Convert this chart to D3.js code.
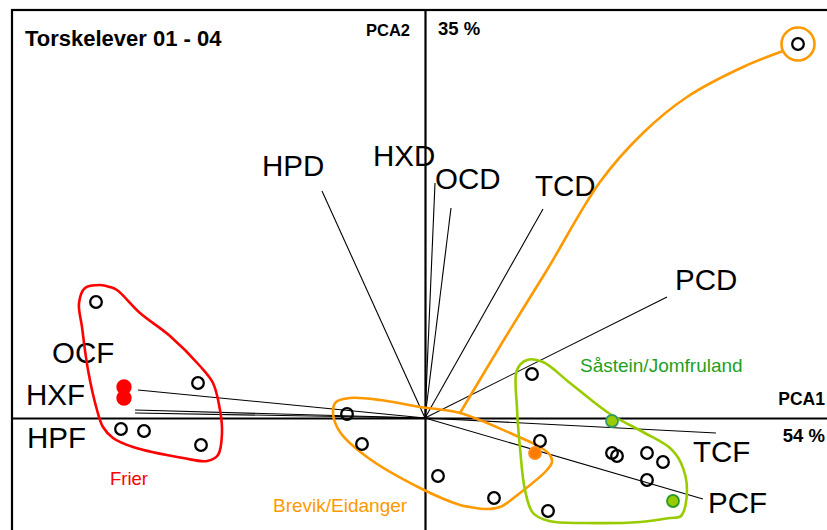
<!DOCTYPE html>
<html>
<head>
<meta charset="utf-8">
<script src="https://cdn.jsdelivr.net/npm/d3@7/dist/d3.min.js"></script>
<style>
  html, body { margin: 0; padding: 0; background: #fff; }
  svg { display: block; }
  text { font-family: "Liberation Sans", Arial, Helvetica, sans-serif; }
</style>
</head>
<body>
<svg id="chart" width="827" height="530"></svg>
<script>
// ---------- DATA (PCA units) ----------
const title = "Torskelever 01 - 04";
const axisY = { name: "PCA2", pct: "35 %" };
const axisX = { name: "PCA1", pct: "54 %" };

// loading vectors
const loadingNames = ["HPD", "HXD", "OCD", "TCD", "PCD", "OCF", "HXF", "HPF", "TCF", "PCF"];
const loadingX = [-1.03, 0.10, 0.26, 1.18, 2.42, -2.87, -2.90, -2.90, 2.91, 2.78];
const loadingY = [ 2.27, 2.35, 2.10, 2.09, 1.21,  0.28,  0.08,  0.05, -0.15, -0.81];
// label anchors (left/baseline) for loading labels
const labelX = [-1.63, -0.52, 0.10, 1.10, 2.50, -3.73, -3.99, -3.98, 2.68, 2.83];
const labelY = [ 2.42,  2.52, 2.29, 2.22, 1.28,  0.55,  0.13, -0.30, -0.44, -0.95];

// sample scores (open circles)
const sampleX = [-3.29, -2.27, -3.04, -2.81, -2.24, -0.78, -0.63, 1.07, 1.15, 0.13, 0.69, 1.23, 1.87, 1.92, 2.22, 2.38, 2.22, 3.73];
const sampleY = [ 1.16,  0.35, -0.11, -0.13, -0.27,  0.04, -0.26, 0.44, -0.23, -0.58, -0.80, -0.93, -0.35, -0.38, -0.35, -0.44, -0.62, 3.74];

// highlighted samples (filled)
const hlX = [-3.01, -3.01, 1.10, 1.87, 2.48];
const hlY = [ 0.31,  0.20, -0.35, -0.03, -0.83];
const hlGroup = ["Frier", "Frier", "Brevik/Eidanger", "Teal", "Såstein/Jomfruland"];

// groups
const groupNames = ["Frier", "Brevik/Eidanger", "Såstein/Jomfruland"];
const groupLabelX = [-3.15, -1.52, 1.55];
const groupLabelY = [-0.67, -0.94, 0.46];

// hull outlines (PCA units)
const hullFrier = [
  [-3.25, 1.33], [-3.15, 1.31], [-3.08, 1.28], [-2.85, 1.05], [-2.55, 0.82], [-2.25, 0.52],
  [-2.12, 0.35], [-2.05, 0.08], [-2.03, -0.15], [-2.07, -0.37], [-2.18, -0.43],
  [-2.42, -0.40], [-2.92, -0.29], [-3.12, -0.20], [-3.22, -0.09], [-3.28, 0.08],
  [-3.37, 0.48], [-3.43, 0.91], [-3.46, 1.15], [-3.40, 1.30]
];
const hullBrevik = [
  [-0.89, 0.16], [-0.75, 0.20], [-0.45, 0.18], [-0.05, 0.11], [0.35, 0.05], [0.85, -0.15],
  [1.15, -0.29], [1.25, -0.37], [1.27, -0.44], [1.22, -0.52], [0.95, -0.75], [0.75, -0.89],
  [0.62, -0.91], [0.45, -0.89], [0.35, -0.87], [-0.05, -0.70], [-0.58, -0.39], [-0.85, -0.14],
  [-0.92, 0.05]
];
const hullSastein = [
  [0.92, 0.48], [1.02, 0.58], [1.18, 0.56], [1.45, 0.35], [1.85, 0.04], [2.18, -0.14],
  [2.45, -0.30], [2.56, -0.45], [2.62, -0.72], [2.56, -0.98], [2.45, -1.00], [2.15, -1.04],
  [1.60, -1.05], [1.24, -1.03], [1.08, -0.95], [1.00, -0.72], [0.95, -0.30], [0.92, 0.10]
];
// connector from Brevik hull to the outlying sample
const tail = [[0.35, 0.05], [0.80, 0.80], [1.22, 1.48], [1.75, 2.36], [2.18, 2.85], [2.62, 3.21], [3.18, 3.51], [3.58, 3.67]];
const outlierRing = { x: 3.73, y: 3.74 };

// ---------- LAYOUT ----------
const svg = d3.select("#chart");
const x = d3.scaleLinear().domain([-4.13, 4.02]).range([12, 827]);
const y = d3.scaleLinear().domain([4.08, -1.12]).range([10, 530]);
const red = "#ff0000", orange = "#ff9900", lime = "#99cc00", green = "#1f9f1f";

// frame (extends beyond right/bottom edges)
svg.append("rect").attr("x", x(-4.13)).attr("y", y(4.08)).attr("width", 900).attr("height", 900)
  .attr("fill", "none").attr("stroke", "#000").attr("stroke-width", 2.2);

// axes through origin
const gx = svg.append("g").attr("transform", `translate(0,${y(0)})`)
  .call(d3.axisBottom(x).tickValues([]).tickSizeOuter(0));
const gy = svg.append("g").attr("transform", `translate(${x(0)},0)`)
  .call(d3.axisLeft(y).tickValues([]).tickSizeOuter(0));
[gx, gy].forEach(g => g.select(".domain").attr("stroke", "#000").attr("stroke-width", 2.2));

// loading vectors
svg.append("g").selectAll("line").data(loadingNames).join("line")
  .attr("x1", x(0)).attr("y1", y(0))
  .attr("x2", (d, i) => x(loadingX[i])).attr("y2", (d, i) => y(loadingY[i]))
  .attr("stroke", "#000").attr("stroke-width", 1.1);

svg.append("g").selectAll("text").data(loadingNames).join("text")
  .attr("x", (d, i) => x(labelX[i])).attr("y", (d, i) => y(labelY[i]))
  .attr("font-size", 29.5).attr("fill", "#000").text(d => d);

// hulls
const closed = d3.line().x(d => x(d[0])).y(d => y(d[1])).curve(d3.curveCatmullRomClosed.alpha(0.5));
const open = d3.line().x(d => x(d[0])).y(d => y(d[1])).curve(d3.curveCatmullRom.alpha(0.5));
svg.append("path").attr("d", closed(hullBrevik)).attr("fill", "none").attr("stroke", orange).attr("stroke-width", 2.6);
svg.append("path").attr("d", open(tail)).attr("fill", "none").attr("stroke", orange).attr("stroke-width", 2.6);
svg.append("circle").attr("cx", x(outlierRing.x)).attr("cy", y(outlierRing.y)).attr("r", 16.5)
  .attr("fill", "#fff").attr("stroke", orange).attr("stroke-width", 2.6);
svg.append("path").attr("d", closed(hullFrier)).attr("fill", "none").attr("stroke", red).attr("stroke-width", 2.6);
svg.append("path").attr("d", closed(hullSastein)).attr("fill", "none").attr("stroke", lime).attr("stroke-width", 2.6);

// samples
svg.append("g").selectAll("circle").data(sampleX).join("circle")
  .attr("cx", (d, i) => x(sampleX[i])).attr("cy", (d, i) => y(sampleY[i])).attr("r", 5.8)
  .attr("fill", "#fff").attr("fill-opacity", 0).attr("stroke", "#000").attr("stroke-width", 2.3);

const hlFill = { "Frier": red, "Brevik/Eidanger": "#ff7a00", "Teal": lime, "Såstein/Jomfruland": lime };
const hlStroke = { "Frier": red, "Brevik/Eidanger": "#ff8c1a", "Teal": "#339966", "Såstein/Jomfruland": "#2a9a2a" };
const hlR = { "Frier": 6.8, "Brevik/Eidanger": 6, "Teal": 6, "Såstein/Jomfruland": 6 };
svg.append("g").selectAll("circle").data(hlGroup).join("circle")
  .attr("cx", (d, i) => x(hlX[i])).attr("cy", (d, i) => y(hlY[i])).attr("r", d => hlR[d])
  .attr("fill", d => hlFill[d]).attr("stroke", d => hlStroke[d]).attr("stroke-width", 1.8);

// group labels
const groupColor = [red, orange, green];
const groupSize = [18.5, 19, 19];
svg.append("g").selectAll("text").data(groupNames).join("text")
  .attr("x", (d, i) => x(groupLabelX[i])).attr("y", (d, i) => y(groupLabelY[i]))
  .attr("font-size", (d, i) => groupSize[i]).attr("fill", (d, i) => groupColor[i]).text(d => d);

// titles
svg.append("text").attr("x", 25).attr("y", 45.5).attr("font-size", 22).attr("font-weight", "bold").text(title);
svg.append("text").attr("x", x(0) - 15).attr("y", 35.5).attr("text-anchor", "end")
  .attr("font-size", 16.5).attr("font-weight", "bold").text(axisY.name);
svg.append("text").attr("x", x(0) + 13).attr("y", 35).attr("font-size", 18.5).attr("font-weight", "bold").text(axisY.pct);
svg.append("text").attr("x", 825).attr("y", 405).attr("text-anchor", "end")
  .attr("font-size", 17.5).attr("font-weight", "bold").text(axisX.name);
svg.append("text").attr("x", 825).attr("y", 442).attr("text-anchor", "end")
  .attr("font-size", 18.5).attr("font-weight", "bold").text(axisX.pct);
</script>
</body>
</html>
